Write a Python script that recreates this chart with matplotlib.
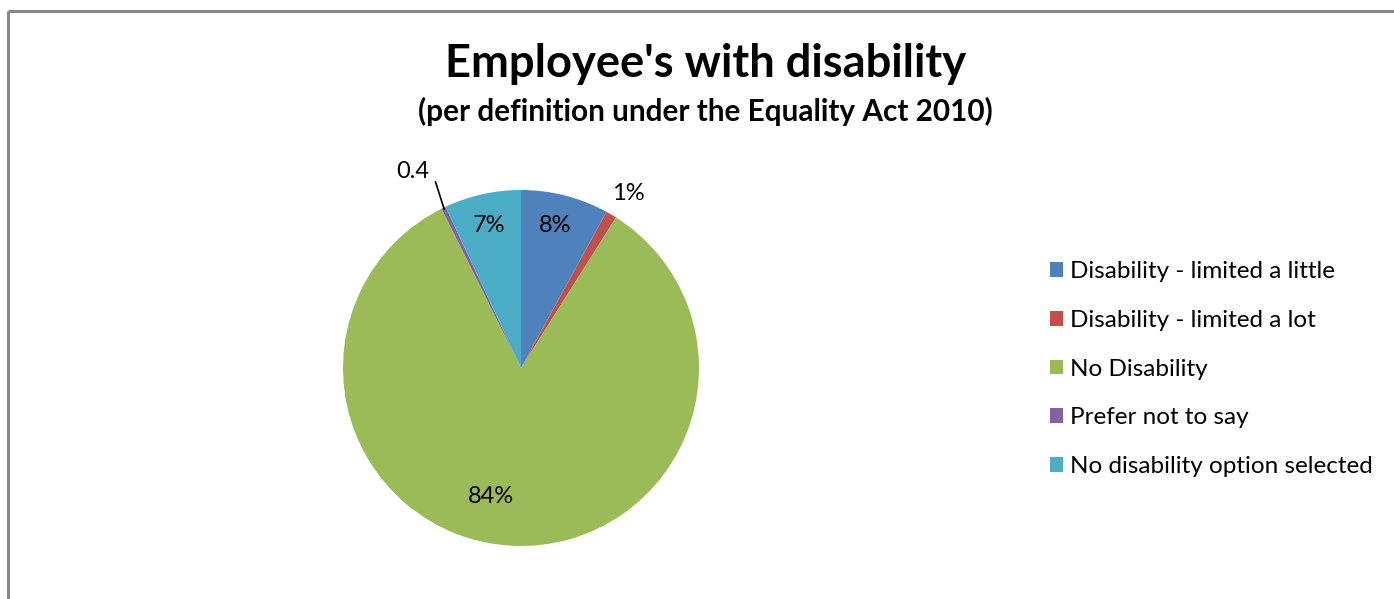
import matplotlib
matplotlib.use("Agg")
import matplotlib.pyplot as plt
from matplotlib.patches import Patch
from matplotlib.lines import Line2D
import numpy as np

# Staff disability breakdown (percent of employees)
categories = ["Disability - limited a little", "Disability - limited a lot",
              "No Disability", "Prefer not to say", "No disability option selected"]
values = [8, 1, 84, 0.4, 7]
value_labels = ["8%", "1%", "84%", "0.4", "7%"]
colors = ["#4F81BD", "#C0504D", "#9BBB59", "#8064A2", "#4BACC6"]

plt.rcParams["font.family"] = ["Lato", "DejaVu Sans"]

W, H = 1394, 599
fig = plt.figure(figsize=(W / 100, H / 100), dpi=100)

# chart border (only top and left edges fall inside the image)
edge = "#868686"
fig.add_artist(Line2D([8 / W, 8 / W], [0, 1 - 10.5 / H], color=edge, lw=2.2,
                      transform=fig.transFigure, solid_capstyle="butt"))
fig.add_artist(Line2D([8 / W, 1], [1 - 10.5 / H, 1 - 10.5 / H], color=edge, lw=2.2,
                      transform=fig.transFigure, solid_capstyle="butt"))

fig.text(706 / W, 1 - 64 / H, "Employee's with disability", ha="center", va="center",
         fontsize=32.6, fontweight="bold", color="black")
fig.text(705 / W, 1 - 111 / H, "(per definition under the Equality Act 2010)",
         ha="center", va="center", fontsize=21.4, fontweight="bold", color="black")

# pie area
cx, cy, r = 521, 368, 178
ax = fig.add_axes([(cx - r) / W, (H - cy - r) / H, 2 * r / W, 2 * r / H])
wedges, _ = ax.pie(values, colors=colors, startangle=90, counterclock=False,
                   radius=1.0, wedgeprops=dict(linewidth=0))
ax.set_xlim(-1, 1)
ax.set_ylim(-1, 1)
ax.set_aspect("equal")
ax.axis("off")

# label placement: distance from centre and angular nudge for each slice
label_r = [0.82, 1.15, 0.74, 1.26, 0.82]
label_dt = [1, -1, -10.5, 3, 0]
for w, txt, lr, dt in zip(wedges, value_labels, label_r, label_dt):
    mid = np.deg2rad((w.theta1 + w.theta2) / 2 + dt)
    x, y = lr * np.cos(mid), lr * np.sin(mid)
    ax.text(x, y, txt, ha="center", va="center", fontsize=17, color="black",
            clip_on=False)

# leader line for the smallest slice
pw = wedges[3]
pm = np.deg2rad((pw.theta1 + pw.theta2) / 2)
ax.plot([1.15 * np.cos(pm - 0.02), 0.99 * np.cos(pm)],
        [1.15 * np.sin(pm - 0.02), 0.99 * np.sin(pm)],
        color="black", lw=1.2, clip_on=False)

handles = [Patch(facecolor=c, edgecolor="none") for c in colors]
fig.legend(handles, categories, loc="center left",
           bbox_to_anchor=(1040 / W, 1 - 369 / H), frameon=False,
           fontsize=17.5, handlelength=0.55, handleheight=0.55,
           handletextpad=0.3, labelspacing=1.14, borderaxespad=0)

fig.savefig("out.png", dpi=100, facecolor="white")
